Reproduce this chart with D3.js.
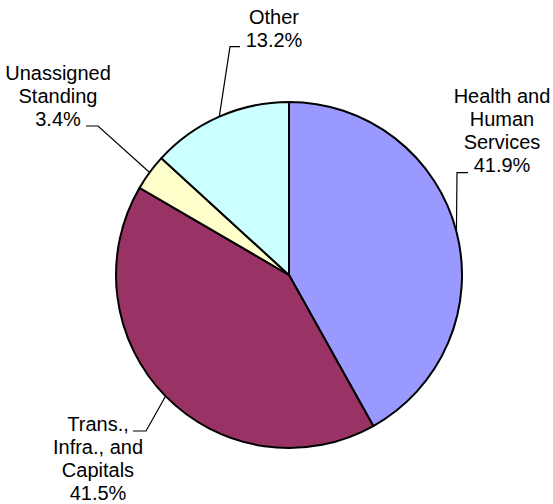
<!DOCTYPE html>
<html lang="en">
<head>
<meta charset="UTF-8">
<title>Pie</title>
<script src="https://d3js.org/d3.v7.min.js"></script>
<style>
  body { margin: 0; background: #fff; }
  svg text { font-family: "Liberation Sans", Arial, sans-serif; font-size: 20px; fill: #000; }
</style>
</head>
<body>
<svg id="chart"></svg>
<script>
// slices, clockwise from 12 o'clock
var categories = ["Health and\nHuman\nServices", "Trans.,\nInfra., and\nCapitals", "Unassigned\nStanding", "Other"];
var values = [41.9, 41.5, 3.4, 13.2];
var colors = ["#9999ff", "#993366", "#ffffcc", "#ccffff"];

// where each label sits: elbow of the leader, end of its short horizontal tick,
// text centre x and baseline of the last line
var labelPos = [
  {ex: 457, ey: 172.7, hx: 468, tx: 502, ty: 171.7},
  {ex: 146, ey: 431, hx: 133, tx: 98, ty: 500},
  {ex: 98, ey: 126, hx: 86, tx: 58, ty: 126},
  {ex: 230, ey: 46.7, hx: 240, tx: 274, ty: 46.7}
];

var width = 553, height = 504,
    cx = 289, cy = 275, r = 173,
    lineH = 23;

var svg = d3.select("#chart")
    .attr("width", width)
    .attr("height", height);

var data = values.map(function(v, i) {
  return {name: categories[i], value: v, color: colors[i], pos: labelPos[i]};
});

var pie = d3.pie().sort(null).value(function(d) { return d.value; });
var arc = d3.arc().innerRadius(0).outerRadius(r);
var edge = d3.arc().innerRadius(r).outerRadius(r);

var g = svg.append("g").attr("transform", "translate(" + cx + "," + cy + ")");

g.selectAll(".slice")
    .data(pie(data))
  .enter().append("path")
    .attr("class", "slice")
    .attr("d", arc)
    .attr("fill", function(d) { return d.data.color; })
    .attr("stroke", "#000")
    .attr("stroke-width", 2)
    .attr("stroke-linejoin", "round");

// leader lines
var fmt = d3.format(".1f");
var lab = svg.selectAll(".lab")
    .data(pie(data))
  .enter().append("g")
    .attr("class", "lab");

lab.append("polyline")
    .attr("fill", "none")
    .attr("stroke", "#000")
    .attr("stroke-width", 1.2)
    .attr("points", function(d) {
      var c = edge.centroid(d), p = d.data.pos;
      return [[cx + c[0], cy + c[1]], [p.ex, p.ey], [p.hx, p.ey]].join(" ");
    });

lab.each(function(d) {
  var lines = d.data.name.split("\n").concat([fmt(d.data.value) + "%"]);
  var p = d.data.pos;
  var n = lines.length;
  d3.select(this).selectAll("text")
      .data(lines)
    .enter().append("text")
      .attr("x", p.tx)
      .attr("y", function(t, i) { return p.ty - (n - 1 - i) * lineH; })
      .attr("text-anchor", "middle")
      .text(function(t) { return t; });
});
</script>
</body>
</html>
